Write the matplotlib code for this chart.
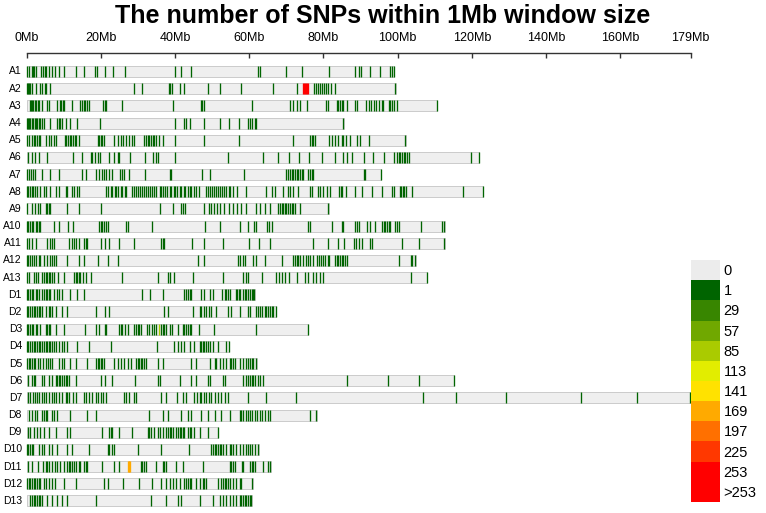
import numpy as np
import matplotlib.pyplot as plt
from matplotlib.colors import LinearSegmentedColormap, ListedColormap, BoundaryNorm
from matplotlib.patches import Rectangle

plt.rcParams['font.family'] = ['Liberation Sans', 'DejaVu Sans']

# chromosome names and lengths (Mb)
chroms = ["A1", "A2", "A3", "A4", "A5", "A6", "A7", "A8", "A9", "A10", "A11", "A12", "A13",
          "D1", "D2", "D3", "D4", "D5", "D6", "D7", "D8", "D9", "D10", "D11", "D12", "D13"]
chrom_len = [99.0, 99.5, 110.6, 85.5, 102.2, 121.9, 95.5, 123.0, 81.5, 112.7, 112.7, 104.9, 107.9,
             61.5, 67.2, 75.8, 54.5, 62.1, 115.2, 179.0, 78.2, 51.6, 62.6, 65.8, 61.0, 60.7]

# SNP positions (Mb)
A1 = [0, 0.6, 1.4, 1.7, 2.0, 2.6, 3.9, 4.3, 4.8, 5.1, 6.0, 6.7, 7.7, 8.6, 10.1, 13.4, 15.5, 18.3, 19.0,
      21.1, 23.2, 26.4, 40.0, 41.5, 44.2, 62.4, 62.8, 70.0, 74.2, 81.5, 88.5, 89.6, 90.0, 92.6, 95.3,
      98.0, 98.5, 98.9]
A2 = [0, 0.3, 0.6, 1.0, 1.4, 2.6, 3.6, 4.2, 5.0, 5.3, 6.4, 29.0, 31.1, 38.3, 38.7, 39.1, 41.2, 42.5,
      48.9, 52.0, 57.9, 66.3, 72.8, 74.4, 74.7, 75.0, 75.3, 75.6, 75.9, 77.4, 78.0, 78.4, 79.1, 79.5,
      80.2, 80.7, 81.3, 82.0, 83.1, 99.4]
A3 = [0.8, 1.2, 1.5, 1.8, 2.2, 2.6, 3.1, 3.4, 4.0, 5.6, 6.0, 8.2, 8.9, 9.3, 9.7, 10.0, 12.3, 14.5,
      15.0, 15.4, 15.7, 16.3, 16.8, 20.7, 21.1, 21.5, 25.6, 39.4, 46.9, 47.3, 47.7, 60.6, 71.1, 71.8,
      72.8, 73.7, 75.5, 80.7, 81.3, 83.6, 84.0, 84.5, 84.9, 85.4, 86.3, 88.6, 89.0, 91.5, 92.2, 92.8,
      93.5, 94.2, 95.1, 95.8, 96.0, 97.6, 98.0, 98.5, 99.1, 99.8, 110.5]
A4 = [0, 0.3, 0.6, 1.0, 1.4, 1.8, 2.2, 2.5, 2.9, 3.3, 3.7, 4.2, 4.7, 6.4, 8.2, 8.7, 9.1, 9.6, 10.5,
      11.6, 13.5, 19.7, 40.0, 42.4, 43.0, 43.9, 47.8, 52.0, 54.5, 57.3, 59.7, 60.3, 60.8, 61.5, 61.9,
      85.4]
A5 = [0, 0.55, 1.45, 1.9, 2.35, 2.8, 3.3, 3.7, 5.1, 6.0, 6.6, 7.3, 7.8, 10.2, 10.7, 11.1, 11.6,
      12.0, 12.5, 12.9, 13.4, 14.1, 19.1, 19.5, 20.0, 20.4, 20.9, 23.6, 24.5, 25.4, 26.0, 26.7, 27.6,
      28.4, 29.0, 31.7, 32.2, 32.6, 33.1, 33.5, 34.0, 34.4, 34.9, 35.6, 36.7, 40.0, 47.8, 57.3, 71.9,
      76.4, 76.8, 77.3, 77.7, 81.6, 82.2, 83.1, 84.0, 84.9, 85.4, 86.1, 87.2, 89.0, 89.9, 92.2, 102.1]
A6 = [0.4, 1.3, 2.2, 3.3, 5.5, 12.5, 15.0, 17.3, 17.7, 18.4, 19.1, 19.8, 22.2, 23.6, 24.5, 24.9,
      27.9, 31.9, 34.1, 34.9, 35.3, 40.0, 54.3, 63.7, 67.8, 70.8, 73.5, 76.2, 79.6, 83.0, 85.4, 86.3,
      87.7, 90.8, 93.3, 96.2, 98.9, 99.8, 100.3, 100.7, 101.2, 101.6, 102.1, 102.5, 103.0, 119.7, 121.8]
A7 = [0, 0.55, 1.2, 1.7, 2.2, 4.2, 6.4, 8.7, 14.8, 15.9, 18.8, 19.5, 20.2, 20.9, 21.5, 22.2, 22.9,
      25.1, 25.8, 26.3, 27.6, 31.9, 38.5, 38.9, 47.3, 49.5, 58.5, 70.0, 70.5, 70.9, 71.4, 71.8, 72.3,
      72.8, 73.2, 73.7, 74.1, 74.6, 75.9, 76.4, 76.8, 77.3, 90.8, 91.3, 95.4]
A8 = [0, 0.4, 0.8, 1.3, 1.7, 2.2, 2.8, 3.7, 4.6, 5.1, 6.4, 7.8, 8.7, 10.5, 10.9, 12.3, 12.7, 13.6,
      14.1, 21.5, 22.0, 22.6, 23.1, 23.7, 24.2, 24.7, 25.3, 25.8, 26.4, 26.9, 28.4, 28.9, 29.4, 30.0,
      30.5, 31.1, 31.6, 32.1, 32.7, 33.2, 33.8, 34.3, 34.9, 35.8, 36.3, 36.8, 37.4, 37.9, 38.5, 39.0,
      39.6, 40.1, 40.6, 41.2, 41.7, 42.3, 42.8, 43.4, 43.9, 44.4, 45.0, 45.7, 46.4, 48.4, 48.9, 49.5,
      50.0, 50.6, 51.1, 51.7, 52.2, 52.7, 53.3, 53.8, 54.4, 54.9, 55.6, 56.7, 59.2, 64.6, 66.0, 66.9,
      69.0, 70.5, 70.9, 71.9, 73.2, 76.4, 76.8, 78.6, 79.1, 79.8, 80.9, 81.8, 84.3, 84.7, 84.9, 86.1,
      88.6, 90.4, 93.1, 95.8, 98.5, 98.9, 100.6, 100.9, 101.4, 101.8, 102.3, 103.9, 117.7, 122.9]
A9 = [0.1, 1.45, 2.2, 3.0, 3.7, 5.1, 5.5, 5.97, 6.4, 10.9, 14.1, 19.9, 35.9, 39.4, 41.5, 42.1, 42.8,
      47.7, 49.1, 49.8, 50.4, 51.3, 52.0, 53.1, 54.5, 55.6, 56.7, 57.9, 59.2, 61.9, 62.8, 64.2, 65.5,
      67.8, 68.2, 68.7, 69.1, 69.6, 70.0, 70.5, 70.9, 71.4, 71.8, 72.3, 73.8, 81.3]
A10 = [0, 0.4, 0.8, 1.3, 1.7, 2.4, 2.8, 3.3, 3.7, 7.3, 8.7, 11.1, 12.5, 19.5, 20.0, 20.4, 20.9, 21.3,
       21.8, 26.7, 27.2, 33.8, 48.1, 52.2, 57.6, 59.7, 61.2, 61.9, 64.8, 65.3, 66.0, 75.9, 76.4, 82.2,
       84.9, 85.4, 88.6, 89.0, 89.5, 91.7, 92.6, 94.0, 95.8, 96.2, 96.7, 97.1, 97.6, 98.0, 99.4, 99.8,
       100.3, 106.2, 112.0, 112.5]
A11 = [0, 0.55, 1.45, 2.5, 5.5, 6.4, 6.9, 7.3, 11.4, 12.1, 12.7, 13.4, 14.1, 15.4, 15.9, 16.3, 20.0,
       21.1, 22.2, 24.9, 29.0, 36.2, 36.7, 37.1, 44.6, 47.9, 52.9, 60.0, 62.6, 65.5, 77.3, 81.1, 84.0,
       85.6, 88.3, 88.8, 89.5, 90.4, 92.6, 93.1, 101.2, 105.7, 112.6]
A12 = [0, 0.4, 0.8, 1.45, 1.9, 2.5, 3.3, 3.7, 4.6, 5.5, 6.4, 6.9, 7.3, 7.8, 10.9, 14.1, 15.4, 19.1,
       21.8, 24.5, 46.2, 47.7, 57.0, 57.6, 58.2, 58.8, 61.0, 61.9, 64.2, 68.7, 71.9, 72.3, 72.8, 73.2,
       73.8, 74.6, 75.2, 75.9, 76.5, 77.3, 78.2, 78.8, 79.3, 80.0, 80.5, 81.1, 81.6, 83.1, 83.6, 84.0,
       84.5, 84.9, 85.4, 85.8, 86.3, 100.3, 103.5, 103.9, 104.8]
A13 = [0.1, 0.7, 1.9, 2.5, 3.1, 4.2, 4.6, 5.1, 5.5, 6.0, 6.4, 6.9, 7.3, 8.5, 10.0, 12.7, 13.2, 13.6,
       14.1, 14.5, 15.2, 15.9, 17.3, 25.8, 35.3, 38.0, 38.7, 39.6, 44.8, 52.9, 58.3, 59.1, 59.7, 63.3,
       67.3, 68.1, 68.7, 69.6, 70.8, 72.8, 75.0, 75.9, 77.3, 78.0, 79.1, 79.8, 103.5, 107.8]
D1 = [0, 0.4, 0.8, 1.3, 1.7, 2.4, 2.8, 3.3, 4.0, 4.6, 5.1, 5.5, 6.0, 6.4, 7.3, 8.2, 8.7, 9.6, 11.8,
      13.6, 15.4, 31.2, 33.2, 36.7, 42.5, 43.0, 43.4, 43.9, 44.3, 47.0, 47.7, 49.3, 50.2, 52.7, 53.4,
      53.8, 54.3, 54.7, 56.4, 56.7, 57.3, 57.6, 58.2, 58.8, 59.2, 59.7, 60.1, 60.6, 61.0, 61.4]
D2 = [0, 0.4, 1.0, 1.45, 1.9, 2.35, 2.8, 3.3, 3.7, 4.2, 5.1, 6.0, 6.4, 6.9, 7.8, 9.6, 10.9, 18.8,
      21.1, 22.2, 37.1, 38.0, 44.8, 46.6, 47.1, 47.7, 48.4, 49.1, 49.8, 51.1, 54.3, 55.2, 57.4, 59.7,
      60.1, 61.9, 62.4, 62.8, 63.3, 64.2, 64.6, 65.1, 65.5, 66.0, 66.4, 67.1]
D3 = [0, 0.4, 0.8, 1.3, 1.7, 2.4, 2.8, 3.7, 5.1, 5.5, 6.0, 6.4, 7.8, 10.0, 15.7, 18.6, 19.5, 21.1,
      21.5, 24.9, 25.4, 25.8, 26.5, 27.2, 29.0, 29.4, 29.9, 30.3, 30.8, 32.4, 33.1, 33.8, 34.2, 34.9,
      35.6, 36.2, 36.7, 37.1, 37.6, 38.5, 39.2, 40.7, 42.1, 42.5, 43.0, 43.4, 43.9, 44.3, 46.4, 50.5,
      61.7, 75.7]
D4 = [0, 0.4, 0.8, 1.45, 1.9, 2.35, 2.8, 3.3, 3.7, 4.2, 4.6, 5.1, 5.5, 6.0, 6.4, 6.9, 7.3, 7.9, 8.7,
      9.4, 10.0, 10.9, 13.6, 16.8, 22.7, 35.0, 39.8, 40.7, 41.6, 42.5, 44.1, 45.2, 46.6, 47.1, 47.5,
      47.9, 48.4, 48.9, 49.3, 50.2, 51.6, 53.8, 54.4]
D5 = [0.1, 0.55, 1.0, 1.45, 1.9, 2.35, 3.1, 3.7, 4.3, 5.1, 5.8, 6.4, 6.9, 8.7, 9.6, 10.0, 11.8, 13.4,
      16.3, 18.6, 19.1, 19.5, 20.0, 20.4, 20.9, 23.6, 24.5, 25.4, 26.3, 27.2, 28.1, 29.4, 29.9, 30.3,
      30.8, 31.2, 31.7, 32.2, 35.3, 36.7, 44.3, 45.7, 49.3, 50.7, 51.1, 52.0, 52.9, 53.8, 54.7, 55.2,
      55.6, 56.1, 57.4, 58.3, 59.2, 59.7, 60.1, 60.6, 61.0, 61.9]
D6 = [0.4, 1.45, 1.9, 2.35, 4.2, 4.6, 6.0, 6.9, 7.8, 8.2, 8.7, 9.1, 9.6, 10.0, 10.5, 10.9, 11.4, 13.4,
      19.9, 21.1, 23.1, 29.3, 35.3, 36.0, 41.2, 44.3, 45.7, 48.9, 49.5, 52.9, 53.4, 58.3, 59.2, 59.7,
      60.1, 60.6, 61.0, 61.5, 62.4, 62.8, 63.7, 86.3, 97.3, 105.7, 115.1]
D7 = [0.4, 1.0, 1.6, 2.2, 2.8, 3.3, 4.0, 4.6, 5.3, 6.0, 6.9, 7.3, 7.8, 8.7, 9.6, 10.5, 10.9, 11.4,
      12.5, 13.4, 15.4, 16.1, 16.8, 17.7, 18.6, 19.3, 19.9, 20.6, 21.3, 26.3, 26.9, 27.6, 29.0, 29.4,
      36.2, 37.6, 40.5, 42.1, 43.0, 45.2, 45.9, 46.6, 47.1, 47.7, 48.4, 49.1, 49.8, 50.7, 51.6, 52.5,
      53.4, 54.3, 59.7, 64.6, 72.5, 106.9, 115.8, 129.2, 149.5, 164.6, 178.8]
D8 = [0.7, 1.45, 2.35, 2.8, 4.2, 4.6, 5.1, 5.5, 6.9, 7.3, 8.2, 11.8, 16.3, 18.6, 33.1, 36.7, 38.0,
      41.6, 43.4, 44.3, 47.1, 48.9, 50.7, 52.5, 54.7, 57.4, 57.9, 58.3, 59.2, 59.7, 60.1, 60.8, 61.5,
      62.1, 62.8, 63.5, 64.2, 65.1, 65.7, 76.4, 78.1]
D9 = [0.4, 1.0, 1.9, 2.8, 3.7, 4.6, 6.0, 7.8, 10.9, 11.6, 20.4, 22.2, 22.7, 23.1, 24.9, 28.5, 32.6,
      33.1, 33.5, 34.4, 35.3, 35.8, 36.7, 37.6, 38.0, 38.5, 38.9, 39.4, 40.3, 40.7, 41.2, 41.6, 42.1,
      42.5, 43.4, 43.9, 44.3, 45.2, 46.6, 48.9, 51.5]
D10 = [0, 0.4, 0.8, 1.3, 1.7, 3.3, 4.2, 4.6, 6.0, 6.9, 8.2, 10.9, 12.3, 16.8, 21.8, 22.2, 23.1, 23.6,
       29.9, 36.2, 43.7, 49.8, 50.2, 50.7, 51.1, 51.6, 52.0, 52.5, 52.9, 53.8, 54.7, 55.2, 55.6, 56.5,
       57.4, 58.3, 59.2, 59.7, 60.1, 60.6, 61.5, 62.4]
D11 = [0.4, 1.45, 3.1, 4.3, 5.1, 5.5, 5.97, 6.9, 7.6, 8.2, 9.1, 10.0, 10.9, 11.4, 11.8, 12.3, 12.7,
       13.4, 14.1, 14.5, 15.4, 16.1, 16.3, 20.4, 23.6, 24.9, 27.2, 27.45, 27.7, 27.95, 30.8, 31.2,
       31.7, 32.2, 34.9, 36.7, 37.1, 37.6, 40.3, 42.1, 47.5, 54.7, 55.2, 55.6, 56.1, 58.0, 58.4, 60.1,
       60.6, 61.0, 61.5, 63.7, 65.1, 65.7]
D12 = [0.1, 0.55, 1.0, 1.45, 1.9, 2.35, 2.8, 3.3, 3.7, 4.6, 5.1, 6.0, 6.9, 7.6, 10.0, 13.4, 20.9,
       21.8, 26.0, 30.3, 33.9, 36.2, 37.6, 38.5, 39.4, 40.3, 41.2, 42.5, 43.0, 43.4, 43.9, 44.3, 45.7,
       46.6, 47.5, 47.9, 48.4, 51.6, 52.5, 52.9, 53.4, 53.8, 54.3, 54.7, 55.6, 56.5, 57.4, 57.9, 60.8]
D13 = [1.0, 1.45, 1.9, 2.35, 2.8, 3.3, 3.7, 4.2, 5.5, 6.9, 8.2, 9.6, 10.9, 18.6, 33.5, 37.6, 40.7,
       41.6, 46.6, 50.2, 52.0, 52.9, 53.8, 54.7, 55.6, 56.5, 57.4, 57.9, 58.3, 58.8, 59.2, 59.7, 60.1,
       60.5]

snps = [A1, A2, A3, A4, A5, A6, A7, A8, A9, A10, A11, A12, A13,
        D1, D2, D3, D4, D5, D6, D7, D8, D9, D10, D11, D12, D13]

# 1Mb windows with many SNPs
hot_chrom = ["A2", "A2", "D11", "D3"]
hot_window = [74, 75, 27, 35]
hot_count = [280, 265, 175, 95]

legend_labels = ["0", "1", "29", "57", "85", "113", "141", "169", "197", "225", "253", ">253"]
bin_edges = [1, 29, 57, 85, 113, 141, 169, 197, 225, 253, 281]

ramp = LinearSegmentedColormap.from_list("dens", ["darkgreen", "yellow", "red"])
palette = [ramp(v) for v in np.linspace(0, 1, 10)]
cmap = ListedColormap(palette)
cmap.set_over("red")
norm = BoundaryNorm(bin_edges, cmap.N)

fig = plt.figure(figsize=(7.66, 5.13), dpi=100)
ax = fig.add_axes([0, 0, 1, 1])
ax.set_xlim(-7.2, 199.3)
ax.set_ylim(25.70, -4.16)
ax.axis("off")

half = 0.32
for i, (name, length, pos) in enumerate(zip(chroms, chrom_len, snps)):
    ax.add_patch(Rectangle((0, i - half), length, 2 * half, facecolor="#EFEFEF",
                           edgecolor="#C4C4C4", lw=0.6, zorder=1))
    pos = np.array(pos)
    win = np.floor(pos).astype(int)
    counts = np.array([np.sum(win == w) for w in win])
    for c, w, n in zip(hot_chrom, hot_window, hot_count):
        if c == name:
            counts[win == w] = n
    ax.vlines(pos, i - half, i + half, colors=cmap(norm(counts)), lw=0.95, zorder=2)
    ax.text(-1.3, i, name, ha="right", va="center", fontsize=7.5)

# top scale
tick_vals = [0, 20, 40, 60, 80, 100, 120, 140, 160, 179]
ax.plot([0, 179], [-1.077, -1.077], color="#333333", lw=1.0)
ax.vlines(tick_vals, -1.077, -0.80, color="#333333", lw=1.0)
for v in tick_vals:
    ax.text(v, -1.95, f"{v}Mb", ha="center", va="center", fontsize=9)

fig.text(0.5, 1 - 16 / 513, "The number of SNPs within 1Mb window size",
         ha="center", va="center", fontsize=18, fontweight="bold")

# legend bar
legend_colors = ["#ECECEC"] + palette + ["red"]
lax = fig.add_axes([691 / 766, 1 - 502 / 513, 29 / 766, 242 / 513])
lax.set_xlim(0, 1)
lax.set_ylim(len(legend_labels), 0)
lax.axis("off")
lax.barh(np.arange(len(legend_labels)), 1, height=1, left=0, align="edge", color=legend_colors)
for k, lab in enumerate(legend_labels):
    lax.text(1.12, k + 0.55, lab, ha="left", va="center", fontsize=10.5, clip_on=False)

fig.savefig("out.png", dpi=100)
